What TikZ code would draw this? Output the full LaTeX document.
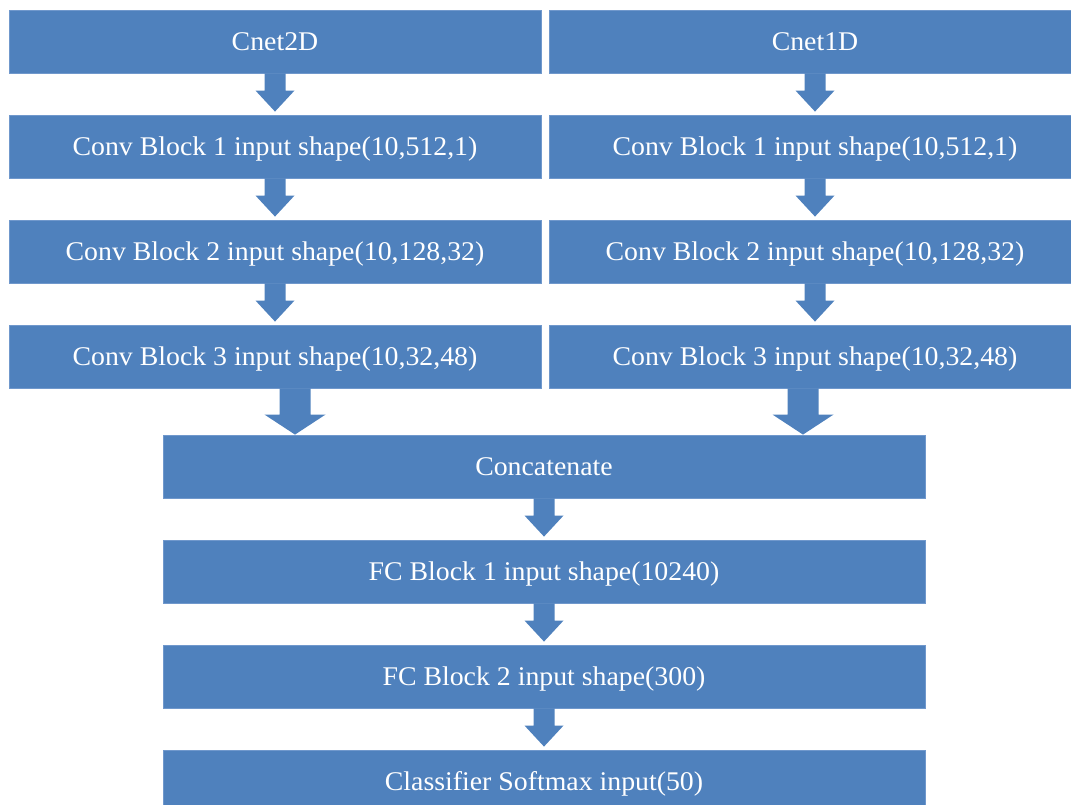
\documentclass[tikz,border=0pt]{standalone}
\usepackage{fontspec}
\setmainfont{Liberation Serif}
\newfontfamily\labelfont[FakeStretch=1.03]{Liberation Serif}
\usetikzlibrary{calc}
\definecolor{blockblue}{HTML}{4F81BD}
\definecolor{blockedge}{HTML}{7098CC}
% filled block arrow from the bottom of one box down to the next
% #1 start, #2 end, #3 stem half width, #4 head half width, #5 head length, #6 gap before target
\newcommand{\blockarrow}[6]{%
  \fill[blockblue] let \p1=(#1), \p2=(#2) in
    (\x1-#3,\y1) -- (\x1+#3,\y1) -- (\x1+#3,\y2+#6+#5) -- (\x1+#4,\y2+#6+#5)
    -- (\x1,\y2+#6) -- (\x1-#4,\y2+#6+#5) -- (\x1-#3,\y2+#6+#5) -- cycle;}
\begin{document}
\begin{tikzpicture}[x=1pt,y=1pt,
  box/.style={rectangle, fill=blockblue, draw=blockedge, line width=0.8pt,
    minimum height=63pt, inner sep=0pt, text=white,
    text height=22pt, text depth=4pt,
    font=\labelfont\fontsize{27}{30}\selectfont},
  colbox/.style={box, minimum width=532pt},
  widebox/.style={box, minimum width=762pt}]
\useasboundingbox (0,0) rectangle (1071,805);
\clip (0,0) rectangle (1071,805);
% left branch
\node[colbox] (l0) at (275,763.5) {Cnet2D};
\node[colbox] (l1) at (275,658.5) {Conv Block 1 input shape(10,512,1)};
\node[colbox] (l2) at (275,553.5) {Conv Block 2 input shape(10,128,32)};
\node[colbox] (l3) at (275,448.5) {Conv Block 3 input shape(10,32,48)};
% right branch
\node[colbox] (r0) at (815,763.5) {Cnet1D};
\node[colbox] (r1) at (815,658.5) {Conv Block 1 input shape(10,512,1)};
\node[colbox] (r2) at (815,553.5) {Conv Block 2 input shape(10,128,32)};
\node[colbox] (r3) at (815,448.5) {Conv Block 3 input shape(10,32,48)};
% merged trunk
\node[widebox] (cat) at (544,338.5) {Concatenate};
\node[widebox] (fc1) at (544,233.5) {FC Block 1 input shape(10240)};
\node[widebox] (fc2) at (544,128.5) {FC Block 2 input shape(300)};
\node[widebox] (cls) at (544,23.5) {Classifier Softmax input(50)};
% arrows inside each branch
\blockarrow{l0.south}{l1.north}{10.5}{19.5}{21}{3}
\blockarrow{l1.south}{l2.north}{10.5}{19.5}{21}{3}
\blockarrow{l2.south}{l3.north}{10.5}{19.5}{21}{3}
\blockarrow{r0.south}{r1.north}{10.5}{19.5}{21}{3}
\blockarrow{r1.south}{r2.north}{10.5}{19.5}{21}{3}
\blockarrow{r2.south}{r3.north}{10.5}{19.5}{21}{3}
% branches into the concatenation
\blockarrow{$(l3.south)+(20,0)$}{cat.north}{15.5}{30.5}{20}{0}
\blockarrow{$(r3.south)+(-12,0)$}{cat.north}{15.5}{30.5}{20}{0}
% trunk arrows
\blockarrow{cat.south}{fc1.north}{10.5}{19.5}{21}{3}
\blockarrow{fc1.south}{fc2.north}{10.5}{19.5}{21}{3}
\blockarrow{fc2.south}{cls.north}{10.5}{19.5}{21}{3}
\end{tikzpicture}
\end{document}
